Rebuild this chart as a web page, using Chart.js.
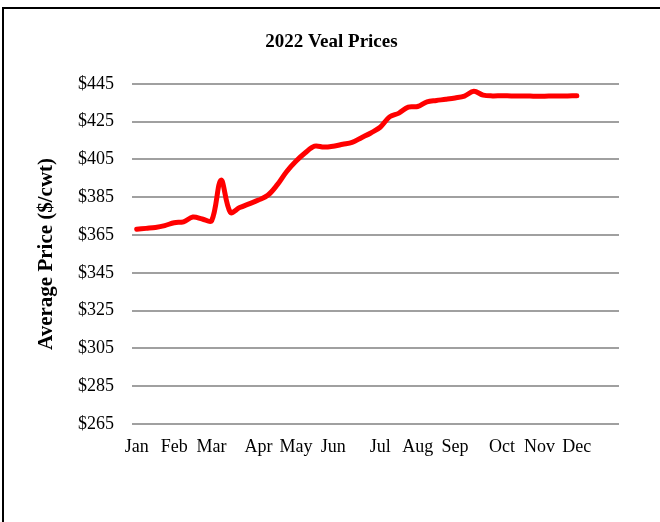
<!DOCTYPE html>
<html lang="en">
<head>
    <meta charset="UTF-8">
    <title>2022 Veal Prices</title>
    <script src="https://cdn.jsdelivr.net/npm/chart.js"></script>
    <style>
        html, body { margin: 0; padding: 0; background: #fff; }
        #vealChart { display: block; }
    </style>
</head>
<body>
    <canvas id="vealChart" width="660" height="522"></canvas>

    <script>
        // Weekly categories (4-4-5 weeks per quarter), only the first week of each month is labelled
        const weekLabels = [
            'Jan', '', '', '',
            'Feb', '', '', '',
            'Mar', '', '', '', '',
            'Apr', '', '', '',
            'May', '', '', '',
            'Jun', '', '', '', '',
            'Jul', '', '', '',
            'Aug', '', '', '',
            'Sep', '', '', '', '',
            'Oct', '', '', '',
            'Nov', '', '', '',
            'Dec', '', '', '', ''
        ];

        // Average weekly veal price, $/cwt
        const vealPrices = [
            368, 368.5, 369, 370,
            371.5, 372, 374.5, 373.5,
            372.5, 394, 377, 379.5, 381.5,
            383.5, 386, 391.5, 398.5,
            404, 408.5, 412, 411.5,
            412, 413, 414, 416.5, 419,
            422, 427.5, 429.5, 432.7,
            433, 435.5, 436.2, 436.8,
            437.5, 438.5, 441, 439, 438.6,
            438.7, 438.6, 438.6, 438.5,
            438.4, 438.5, 438.5, 438.6,
            438.7
        ];

        // Y axis range and step
        const priceMin = 265;
        const priceMax = 445;
        const priceStep = 20;

        const serif = 'Liberation Serif, Times New Roman, serif';

        // Outer frame around the chart
        const framePlugin = {
            id: 'frame',
            beforeDraw(chart) {
                const ctx = chart.ctx;
                ctx.save();
                ctx.fillStyle = '#fff';
                ctx.fillRect(0, 0, chart.width, chart.height);
                ctx.strokeStyle = '#000';
                ctx.lineWidth = 2;
                ctx.beginPath();
                ctx.moveTo(3, chart.height + 5);
                ctx.lineTo(3, 8);
                ctx.lineTo(chart.width + 5, 8);
                ctx.stroke();
                ctx.restore();
            }
        };

        const ctx = document.getElementById('vealChart').getContext('2d');
        new Chart(ctx, {
            type: 'line',
            data: {
                labels: weekLabels,
                datasets: [{
                    label: 'Veal',
                    data: vealPrices,
                    borderColor: '#ff0000',
                    borderWidth: 5,
                    borderCapStyle: 'round',
                    borderJoinStyle: 'round',
                    tension: 0.35,
                    pointRadius: 0,
                    fill: false
                }]
            },
            options: {
                responsive: false,
                animation: false,
                layout: {
                    padding: { left: 3, right: 0, top: 0, bottom: 58 }
                },
                plugins: {
                    legend: { display: false },
                    tooltip: { enabled: false },
                    title: {
                        display: true,
                        text: '2022 Veal Prices',
                        color: '#000',
                        font: { family: serif, size: 19, weight: 'bold' },
                        padding: { top: 31, bottom: 30 }
                    }
                },
                scales: {
                    x: {
                        type: 'category',
                        offset: true,
                        grid: { display: false, drawTicks: false },
                        border: { display: false },
                        ticks: {
                            autoSkip: false,
                            maxRotation: 0,
                            padding: 12,
                            color: '#000',
                            font: { family: serif, size: 18 }
                        },
                        afterFit(scale) { scale.height = 40; }
                    },
                    y: {
                        min: priceMin,
                        max: priceMax,
                        grid: { color: '#a0a0a0', lineWidth: 2, drawTicks: false },
                        border: { display: false },
                        ticks: {
                            stepSize: priceStep,
                            padding: 18,
                            color: '#000',
                            font: { family: serif, size: 18 },
                            callback: v => '$' + v
                        },
                        title: {
                            display: true,
                            text: 'Average Price ($/cwt)',
                            color: '#000',
                            font: { family: serif, size: 21, weight: 'bold' },
                            padding: { top: 31, bottom: 0 }
                        },
                        afterFit(scale) { scale.width = 129; }
                    },
                    // empty right-hand margin beside the plot
                    yMargin: {
                        type: 'linear',
                        position: 'right',
                        grid: { display: false, drawTicks: false },
                        border: { display: false },
                        ticks: { display: false },
                        afterFit(scale) { scale.width = 41; }
                    }
                }
            },
            plugins: [framePlugin]
        });
    </script>
</body>
</html>
